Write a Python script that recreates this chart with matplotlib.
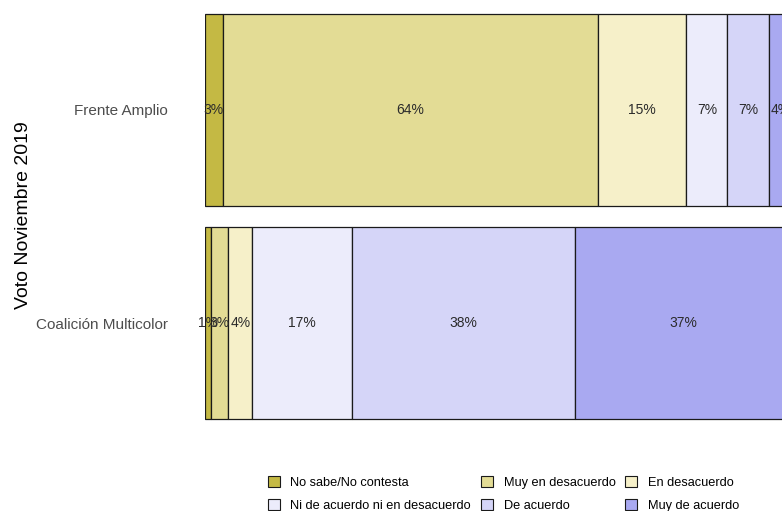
import numpy as np
import matplotlib.pyplot as plt
from matplotlib.patches import Patch

plt.rcParams['font.family'] = ['Liberation Sans', 'DejaVu Sans']

### Data ###
groups = ['Coalición Multicolor', 'Frente Amplio']
answers = ['No sabe/No contesta', 'Muy en desacuerdo', 'En desacuerdo',
           'Ni de acuerdo ni en desacuerdo', 'De acuerdo', 'Muy de acuerdo']
coalicion = [1, 3, 4, 17, 38, 37]
frente = [3, 64, 15, 7, 7, 4]
colors = ['#c4b944', '#e3dc95', '#f6f0c9', '#ececfb', '#d5d5f8', '#a9a9f1']

values = np.array([coalicion, frente])

fig = plt.figure(figsize=(7.82, 5.11), dpi=100)
W, H = 782, 511
# axes runs past the right edge of the figure (the original is cropped)
ax = fig.add_axes([205 / W, 1 - 430 / H, 587 / W, 430 / H])

left = np.zeros(len(groups))
for j in range(len(answers)):
    ax.barh(range(len(groups)), values[:, j], left=left, height=0.9,
            color=colors[j], edgecolor='#1a1a1a', linewidth=0.9)
    for i in range(len(groups)):
        ax.text(left[i] + values[i, j] / 2, i, '%d%%' % values[i, j],
                ha='center', va='center', fontsize=10, color='#2b2b2b')
    left += values[:, j]

ax.set_xlim(0, 100)
ax.set_ylim(-0.502, 1.516)
ax.set_yticks(range(len(groups)))
ax.set_yticklabels(groups, fontsize=11, color='#4d4d4d')
ax.tick_params(axis='y', length=0, pad=26.5)
ax.set_xticks([])
for s in ax.spines.values():
    s.set_visible(False)
ax.set_ylabel('Voto Noviembre 2019', fontsize=14)
ax.yaxis.set_label_coords(-0.295, 0.5)

handles = [Patch(facecolor=c, edgecolor='#1a1a1a', linewidth=0.8) for c in colors]
order = [0, 3, 1, 4, 2, 5]
fig.legend([handles[k] for k in order], [answers[k] for k in order],
           ncol=3, loc='lower left', bbox_to_anchor=(256 / W, -12 / H),
           frameon=False, fontsize=9.2, handlelength=0.95, handleheight=0.95,
           handletextpad=0.85, columnspacing=0.75, labelspacing=0.75)

fig.savefig('out.png', dpi=100)
